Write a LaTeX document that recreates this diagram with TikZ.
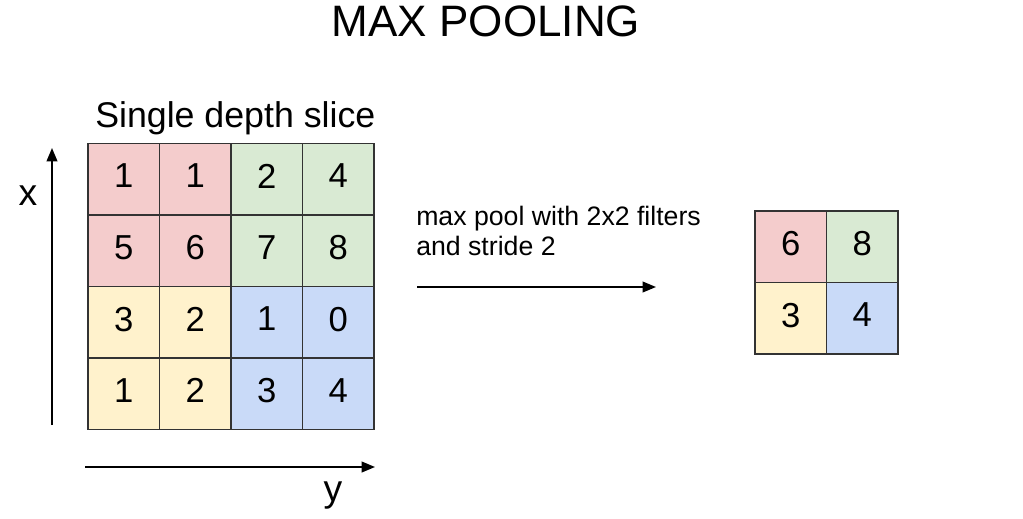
\documentclass[tikz,border=0pt]{standalone}
\usepackage{fontspec}
\setmainfont{Liberation Sans}
\usetikzlibrary{arrows.meta, positioning}
\definecolor{poolred}{HTML}{F4CCCC}
\definecolor{poolgreen}{HTML}{D9EAD3}
\definecolor{poolyellow}{HTML}{FFF2CC}
\definecolor{poolblue}{HTML}{C9DAF8}

\tikzset{
  cell/.style={draw=black!80, line width=0.9pt, minimum size=53.6pt, inner sep=0pt,
    text depth=5pt, font=\fontsize{26}{26}\selectfont},
  note/.style={inner sep=0pt, font=\fontsize{20}{22}\selectfont},
  axis/.style={line width=1.4pt, -{Triangle[length=10pt,width=8pt]}}
}

\begin{document}
\begin{tikzpicture}[x=0.75pt, y=-0.75pt]
  \useasboundingbox (0,0) rectangle (1023,518);

  % title
  \node[inner sep=0pt, anchor=base, font=\fontsize{33}{33}\selectfont] (title) at (486,36) {MAX POOLING};

  % input slice
  \node[inner sep=0pt, anchor=base west, font=\fontsize{26.8}{27}\selectfont] (slice) at (95,127) {Single depth slice};
  \foreach \r/\c/\v/\col in {1/1/1/poolred, 1/2/1/poolred, 1/3/2/poolgreen, 1/4/4/poolgreen,
                             2/1/5/poolred, 2/2/6/poolred, 2/3/7/poolgreen, 2/4/8/poolgreen,
                             3/1/3/poolyellow, 3/2/2/poolyellow, 3/3/1/poolblue, 3/4/0/poolblue,
                             4/1/1/poolyellow, 4/2/2/poolyellow, 4/3/3/poolblue, 4/4/4/poolblue}
    \node[cell, fill=\col] (in-\r-\c) at ({88+71.5*(\c-0.5)}, {143.5+71.5*(\r-0.5)}) {\v};

  % axes
  \coordinate (x-start) at (52,425);
  \coordinate (x-end) at (52,148);
  \coordinate (y-start) at (85,467);
  \coordinate (y-end) at (375,467);
  \draw[axis] (x-start) -- (x-end);
  \draw[axis] (y-start) -- (y-end);
  \node[inner sep=0pt, anchor=base, font=\fontsize{28}{28}\selectfont] (x-label) at (28,205) {x};
  \node[inner sep=0pt, anchor=base, font=\fontsize{28}{28}\selectfont] (y-label) at (333,501) {y};

  % pooling step
  \node[note, anchor=base west] (note-1) at (416,225) {max pool with 2x2 filters};
  \node[note, anchor=base west] (note-2) at (416,255) {and stride 2};
  \coordinate (pool-start) at (417,287);
  \coordinate (pool-end) at (656,287);
  \draw[axis, line width=1.2pt] (pool-start) -- (pool-end);

  % output
  \foreach \r/\c/\v/\col in {1/1/6/poolred, 1/2/8/poolgreen, 2/1/3/poolyellow, 2/2/4/poolblue}
    \node[cell, fill=\col] (out-\r-\c) at ({755+71.5*(\c-0.5)}, {211+71.5*(\r-0.5)}) {\v};
\end{tikzpicture}
\end{document}
